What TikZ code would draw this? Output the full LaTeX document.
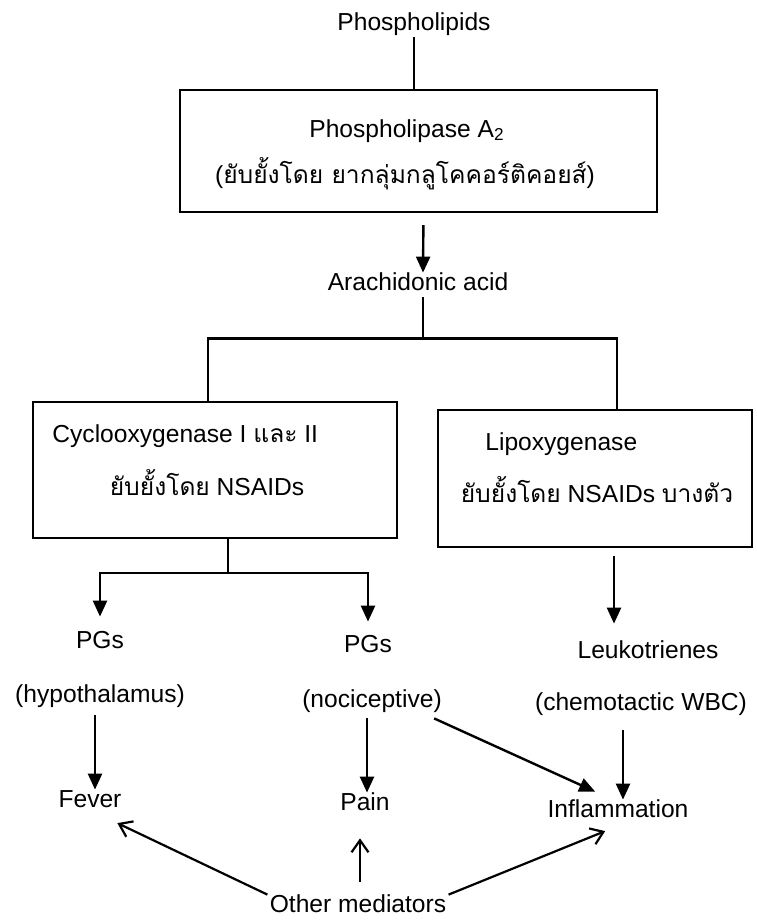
\documentclass[tikz,border=0pt]{standalone}
\usepackage{fontspec}
\setmainfont{Liberation Sans}
\newfontfamily\thai[Script=Thai]{Loma}
\usetikzlibrary{arrows.meta,calc}
\begin{document}
\begin{tikzpicture}[x=0.5pt,y=-0.5pt,
  lbl/.style={inner sep=1pt, font=\fontsize{12.3}{15}\selectfont, text height=0.75em, text depth=0.25em},
  boxn/.style={draw, line width=1.2pt, inner sep=0pt},
  ln/.style={line width=1.2pt, line join=miter},
  tri/.style={line width=1.2pt, line join=miter, -{Triangle[length=8pt,width=7pt]}},
  opn/.style={line width=1.1pt, -{Straight Barb[length=6pt,width=8.5pt]}},
]
\useasboundingbox (0,0) rectangle (756,922);
\fill[white] (0,0) rectangle (756,922);

% boxes
\node[boxn, minimum width=238.5pt, minimum height=61pt] (box1) at (418.5,151) {};
\node[boxn, minimum width=182pt, minimum height=68pt] (cox) at (215,470) {};
\node[boxn, minimum width=157pt, minimum height=68.5pt] (lox) at (595,478.5) {};

% texts
\node[lbl] (phl) at (414,25) {Phospholipids};
\node[lbl] (pla) at (407,132) {Phospholipase A\textsubscript{2}};
\node[lbl] (plt) at (405,178) {({\thai ยับยั้งโดย ยากลุ่มกลูโคคอร์ติคอยส์})};
\node[lbl] (ara) at (418,285) {Arachidonic acid};
\node[lbl, anchor=west] (cox1) at (50,437) {Cyclooxygenase I {\thai และ} II};
\node[lbl] (cox2) at (207,490) {{\thai ยับยั้งโดย} NSAIDs};
\node[lbl, anchor=west] (lox1) at (483,445) {Lipoxygenase};
\node[lbl] (lox2) at (597,497) {{\thai ยับยั้งโดย} NSAIDs {\thai บางตัว}};
\node[lbl] (pg1) at (100,643) {PGs};
\node[lbl] (pg2) at (368,647) {PGs};
\node[lbl] (leuk) at (648,653) {Leukotrienes};
\node[lbl] (hypo) at (100,697) {(hypothalamus)};
\node[lbl] (noc) at (372,702) {(nociceptive)};
\node[lbl] (chem) at (641,705) {(chemotactic WBC)};
\node[lbl] (fev) at (90,802) {Fever};
\node[lbl] (pain) at (365,805) {Pain};
\node[lbl] (infl) at (618,812) {Inflammation};
\node[lbl] (om) at (358,907) {Other mediators};

% connectors
\draw[ln] (phl.south) -- (phl.south |- box1.north);
\draw[tri, shorten <=6pt] ($(box1.south)+(5,0)$) -- ($(ara.north)+(5,0)$);
\draw[ln] ($(ara.south)+(5,0)$) -- ++(0,41) coordinate (jm);
\draw[ln] ($(cox.north)+(-7,0)$) |- (jm) -| ($(lox.north)+(22,0)$);

\coordinate (b1) at ($(cox.south)+(13,34)$);
\draw[ln] ($(cox.south)+(13,0)$) -- (b1);
\draw[tri, shorten >=7pt] (b1) -| (pg1.north);
\draw[tri, shorten >=6.5pt] (b1) -| (pg2.north);
\draw[tri, shorten <=4pt, shorten >=8.5pt] ($(lox.south)+(19,0)$) -- ($(leuk.north)+(-34,0)$);

\draw[tri, shorten <=3pt] ($(hypo.south)+(-5,0)$) -- ($(fev.north)+(5,0)$);
\draw[tri, shorten <=2pt] ($(noc.south)+(-5,0)$) -- ($(pain.north)+(2,0)$);
\draw[tri, shorten <=6.5pt] ($(chem.south)+(-18,0)$) -- ($(infl.north)+(5,0)$);
\draw[tri] ($(noc.south east)+(-10,4)$) -- ($(infl.north west)+(50,-8)$);

\draw[opn, shorten <=6.5pt, shorten >=10.5pt] ($(om.north)+(2,0)$) -- ($(pain.south)+(-5,0)$);
\draw[opn] (om.north west) -- ($(fev.south east)+(-6.5,8.7)$);
\draw[opn] (om.north east) -- ($(infl.south west)+(60,6.7)$);
\end{tikzpicture}
\end{document}
